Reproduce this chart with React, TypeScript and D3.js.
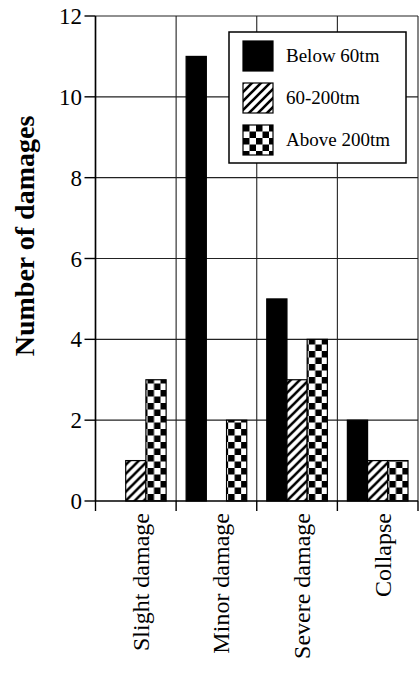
import React, { useEffect } from 'react';
import * as d3 from 'd3';

// damage counts per category
const categories = ['Slight damage', 'Minor damage', 'Severe damage', 'Collapse'];
const seriesNames = ['Below 60tm', '60-200tm', 'Above 200tm'];
const below60 = [0, 11, 5, 2];
const from60to200 = [1, 0, 3, 1];
const above200 = [3, 2, 4, 1];
const yTicks = [0, 2, 4, 6, 8, 10, 12];

const fills = ['#000', 'url(#hatch)', 'url(#checker)'];
const font = '"Liberation Serif", "Times New Roman", serif';

const App = () => {
    useEffect(() => {
        document.body.style.margin = '0';
    }, []);

    const width = 419;
    const height = 682;
    const left = 95.5;
    const right = 418;
    const top = 16;
    const bottom = 501;

    const x = d3.scaleBand().domain(categories).range([left, right]);
    const inner = d3.scaleBand().domain(seriesNames).range([10, x.bandwidth() - 10]);
    const y = d3.scaleLinear().domain([0, 12]).range([bottom, top]);

    const allSeries = [below60, from60to200, above200];
    const boundaries = categories.map(c => x(c)).concat([right]);

    return (
        <svg width={width} height={height} style={{ display: 'block' }} fontFamily={font}>
            <defs>
                <pattern id="hatch" patternUnits="userSpaceOnUse" width="9" height="9">
                    <rect width="9" height="9" fill="#fff" />
                    <path d="M-1,10 L10,-1 M-3,3 L3,-3 M6,12 L12,6" stroke="#000" strokeWidth="2.6" />
                </pattern>
                <pattern id="checker" patternUnits="userSpaceOnUse" width="13" height="13">
                    <rect width="13" height="13" fill="#fff" />
                    <rect x="0" y="0" width="6.5" height="6.5" fill="#000" />
                    <rect x="6.5" y="6.5" width="6.5" height="6.5" fill="#000" />
                </pattern>
            </defs>

            {/* horizontal grid */}
            {yTicks.filter(t => t > 0).map(t => (
                <line key={'h' + t} x1={left} x2={right} y1={y(t)} y2={y(t)} stroke="#222" strokeWidth={1.2} />
            ))}
            {/* vertical grid at category boundaries */}
            {boundaries.map((b, i) => (
                <line key={'v' + i} x1={b} x2={b} y1={top} y2={bottom} stroke="#222" strokeWidth={1.1} />
            ))}

            {/* bars */}
            {categories.map((c, ci) => (
                <g key={c} transform={`translate(${x(c)},0)`}>
                    {allSeries.map((s, si) => s[ci] > 0 && (
                        <rect
                            key={si}
                            x={inner(seriesNames[si])}
                            y={y(s[ci])}
                            width={inner.bandwidth()}
                            height={y(0) - y(s[ci])}
                            fill={fills[si]}
                            stroke="#000"
                            strokeWidth={1.2}
                        />
                    ))}
                </g>
            ))}

            {/* axes */}
            <line x1={left} x2={left} y1={top} y2={bottom} stroke="#000" strokeWidth={1.6} />
            <line x1={left} x2={right} y1={bottom} y2={bottom} stroke="#000" strokeWidth={1.6} />
            {yTicks.map(t => (
                <g key={'yt' + t}>
                    <line x1={left - 11} x2={left} y1={y(t)} y2={y(t)} stroke="#000" strokeWidth={1.4} />
                    <text x={82} y={y(t)} dy="0.35em" textAnchor="end" fontSize={23}>{t}</text>
                </g>
            ))}
            {boundaries.map((b, i) => (
                <line key={'xt' + i} x1={b} x2={b} y1={bottom} y2={bottom + 10} stroke="#000" strokeWidth={1.4} />
            ))}
            {categories.map(c => (
                <text
                    key={'xl' + c}
                    transform={`translate(${x(c) + x.bandwidth() / 2 + 13},513) rotate(-90)`}
                    textAnchor="end"
                    fontSize={24}
                >{c}</text>
            ))}

            <text
                transform="translate(34,236) rotate(-90)"
                textAnchor="middle"
                fontSize={28}
                fontWeight="bold"
            >Number of damages</text>

            {/* legend */}
            <g transform="translate(229,32)">
                <rect width={177} height={131} fill="#fff" stroke="#000" strokeWidth={1.5} />
                {seriesNames.map((s, i) => (
                    <g key={s} transform={`translate(14,${9 + i * 42})`}>
                        <rect width={30} height={30} fill={fills[i]} stroke="#000" strokeWidth={1.2} />
                        <text x={43} y={21} fontSize={19}>{s}</text>
                    </g>
                ))}
            </g>
        </svg>
    );
};

export default App;
